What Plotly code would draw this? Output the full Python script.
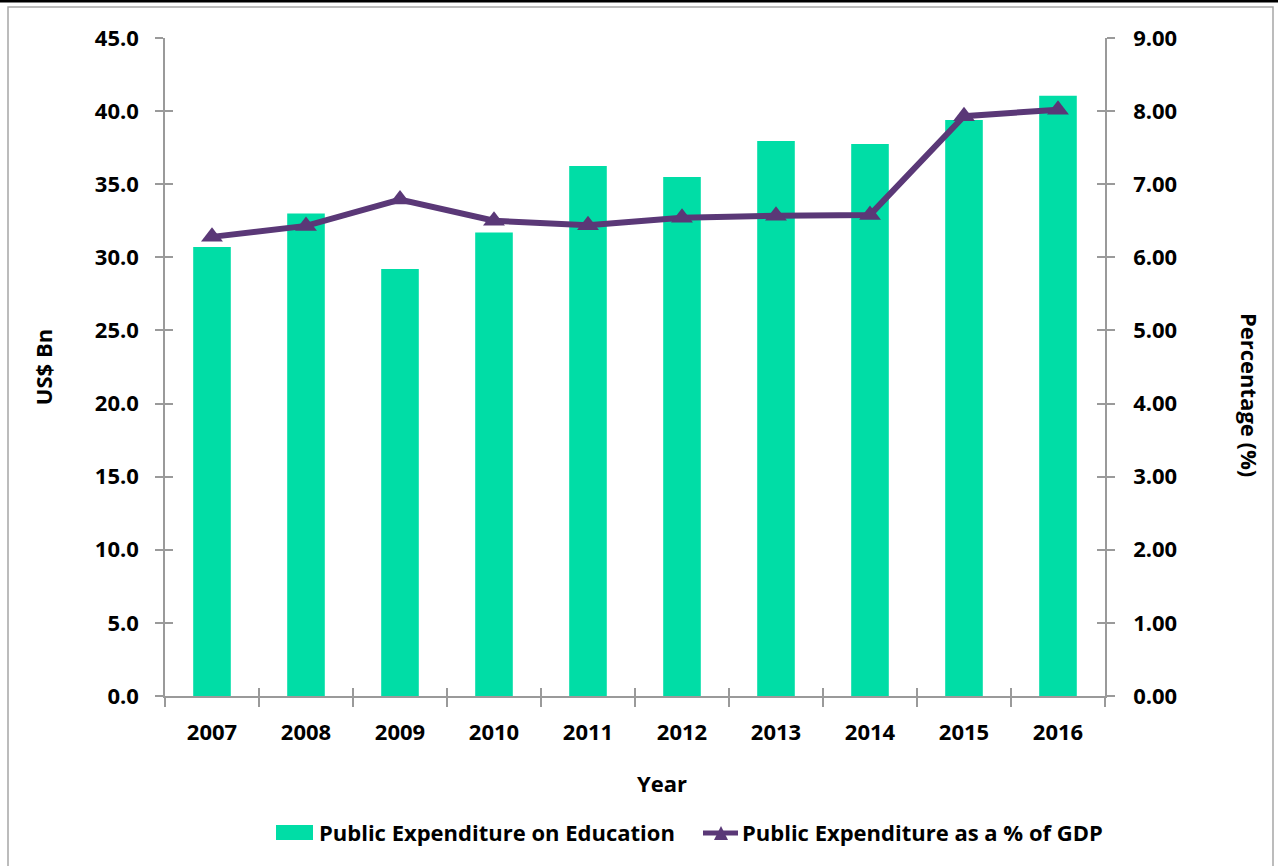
import plotly.graph_objects as go

years = ["2007", "2008", "2009", "2010", "2011", "2012", "2013", "2014", "2015", "2016"]
spend_bn = [30.7, 33.0, 29.2, 31.7, 36.25, 35.5, 37.95, 37.75, 39.4, 41.05]
pct_gdp = [6.28, 6.43, 6.79, 6.50, 6.44, 6.54, 6.57, 6.58, 7.93, 8.02]
left_ticks = [0, 5, 10, 15, 20, 25, 30, 35, 40, 45]
right_ticks = [0, 1, 2, 3, 4, 5, 6, 7, 8, 9]
bar_name = "Public Expenditure on Education"
line_name = "Public Expenditure as a % of GDP"

BAR = "#00DDA6"
LINE = "#5A3877"
AXIS = "#9A9A9A"
FONT = "Open Sans"
FS = 22

W, H = 1278, 866
L, R, T, B = 165, 1105, 38, 696  # plot area in pixels


def px(x):
    return (x - L) / (R - L)


def py(y):
    return (B - y) / (B - T)


bold = dict(family=FONT, size=FS, color="black", weight="bold")

fig = go.Figure()
fig.add_trace(go.Bar(
    x=years, y=spend_bn, name=bar_name,
    marker=dict(color=BAR, line=dict(width=0)), width=0.4, yaxis="y",
))
fig.add_trace(go.Scatter(
    x=years, y=pct_gdp, name=line_name,
    mode="lines+markers", yaxis="y2",
    line=dict(color=LINE, width=6),
    marker=dict(symbol="triangle-up", size=19, color=LINE),
))
# empty traces so the tick-only overlay axes get drawn
for ya in ("y3", "y4"):
    fig.add_trace(go.Scatter(x=[], y=[], xaxis="x2", yaxis=ya, hoverinfo="skip",
                             mode="markers", showlegend=False))

n = len(years)
axis_common = dict(showgrid=False, zeroline=False, showline=True, linecolor=AXIS,
                   linewidth=1.5, tickcolor=AXIS, tickwidth=1.5)

fig.update_layout(
    width=W, height=H,
    margin=dict(l=L, r=W - R, t=T, b=H - B),
    paper_bgcolor="white", plot_bgcolor="white",
    font=dict(family=FONT, color="black"),
    showlegend=False,
    xaxis=dict(
        type="category", range=[-0.5, n - 0.5], **axis_common,
        ticks="outside", ticklen=9, tickson="boundaries",
        tickfont=bold, ticklabelstandoff=16,
    ),
    # inner half of the crossing tick marks on the category axis
    xaxis2=dict(
        range=[-0.5, n - 0.5], overlaying="x", anchor="y", side="bottom",
        tickvals=[i - 0.5 for i in range(n + 1)], showticklabels=False,
        ticks="inside", ticklen=8, **axis_common,
    ),
    yaxis=dict(
        range=[0, 45], tickvals=left_ticks, tickformat=".1f", **axis_common,
        ticks="outside", ticklen=8,
        tickfont=bold, ticklabelstandoff=12,
        title=dict(text="US$ Bn", font=bold, standoff=36),
    ),
    yaxis2=dict(
        range=[0, 9], tickvals=right_ticks, tickformat=".2f",
        overlaying="y", side="right", **axis_common,
        ticks="outside", ticklen=8,
        tickfont=bold, ticklabelstandoff=14,
    ),
    yaxis3=dict(
        range=[0, 45], tickvals=left_ticks, overlaying="y", side="left",
        showticklabels=False, ticks="inside", ticklen=8, **axis_common,
    ),
    yaxis4=dict(
        range=[0, 9], tickvals=right_ticks, overlaying="y", side="right",
        showticklabels=False, ticks="inside", ticklen=8, **axis_common,
    ),
)

# Axis titles placed as text
fig.add_annotation(
    text="Year", x=px(662), y=py(783), xref="paper", yref="paper",
    xanchor="center", yanchor="middle", showarrow=False, font=bold,
)
fig.add_annotation(
    text="Percentage (%)", x=px(1250), y=py(395), xref="paper", yref="paper",
    xanchor="center", yanchor="middle", textangle=90, showarrow=False, font=bold,
)

# Legend: swatches and labels
fig.add_shape(type="rect", xref="paper", yref="paper",
              x0=px(276), x1=px(313), y0=py(840), y1=py(825),
              fillcolor=BAR, line=dict(width=0))
fig.add_annotation(text=bar_name, x=px(317), y=py(832), xref="paper", yref="paper",
                   xanchor="left", yanchor="middle", showarrow=False, font=bold)
fig.add_shape(type="line", xref="paper", yref="paper",
              x0=px(703), x1=px(738), y0=py(833), y1=py(833),
              line=dict(color=LINE, width=5))
tx, ty, hw, hh = 721, 833, 7, 7
fig.add_shape(type="path", xref="paper", yref="paper",
              path=f"M {px(tx - hw)} {py(ty + hh)} L {px(tx + hw)} {py(ty + hh)} "
                   f"L {px(tx)} {py(ty - hh)} Z",
              fillcolor=LINE, line=dict(width=0))
fig.add_annotation(text=line_name, x=px(740), y=py(832), xref="paper", yref="paper",
                   xanchor="left", yanchor="middle", showarrow=False, font=bold)

# Chart frame and top rule
fig.add_shape(type="rect", xref="paper", yref="paper",
              x0=px(8), x1=px(1273), y0=py(880), y1=py(7),
              line=dict(color="#A6A6A6", width=1.5), fillcolor="rgba(0,0,0,0)", layer="below")
fig.add_shape(type="line", xref="paper", yref="paper",
              x0=px(0), x1=px(W), y0=py(1), y1=py(1),
              line=dict(color="black", width=3))

fig.write_html("out.html")
